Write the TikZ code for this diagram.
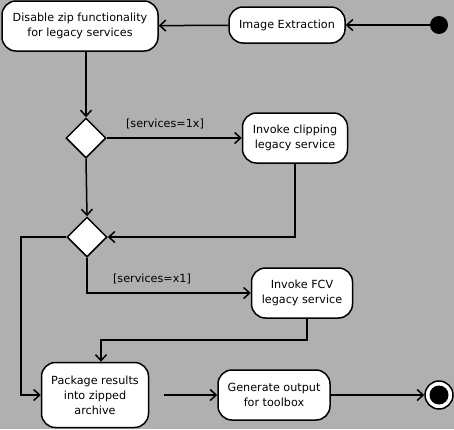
\documentclass[tikz,border=0pt]{standalone}
\usepackage{fontspec}
\setmainfont{DejaVu Sans}
\usetikzlibrary{arrows.meta,shapes.geometric}

\definecolor{bggray}{RGB}{176,176,176}

\tikzset{
	action/.style={draw,fill=white,line width=1.5pt,rounded corners=14pt,align=center,font=\fontsize{11.2}{15}\selectfont,inner sep=1pt},
	branch/.style={draw,fill=white,line width=1.5pt,diamond,aspect=1,minimum width=40pt,minimum height=40pt,inner sep=0pt},
	flow/.style={line width=1.5pt,-{Straight Barb[length=6pt,width=11pt,line width=1.5pt]}},
	guard/.style={font=\fontsize{11.2}{15}\selectfont}
}

\begin{document}
\begin{tikzpicture}[x=1pt,y=-1pt]
	\fill[bggray] (0,0) rectangle (454,429);
	\useasboundingbox (0,0) rectangle (454,429);
	% nodes
	\fill (439,25) circle (9) coordinate (start);
	\node[action,minimum width=116pt,minimum height=36pt] (extract) at (287,25) {Image Extraction};
	\node[action,minimum width=156pt,minimum height=50pt] (disable) at (80,26) {Disable zip functionality\\for legacy services};
	\node[branch] (d1) at (86,138) {};
	\node[action,minimum width=105pt,minimum height=50pt] (clip) at (295,138) {Invoke clipping\\legacy service};
	\node[branch] (d2) at (87,237) {};
	\node[action,minimum width=101pt,minimum height=50pt] (fcv) at (302,293) {Invoke FCV\\legacy service};
	\node[action,minimum width=107pt,minimum height=65pt] (pack) at (95,395) {Package results\\into zipped\\archive};
	\node[action,minimum width=112pt,minimum height=50pt] (gen) at (274,395) {Generate output\\for toolbox};
	\node[circle,draw,fill=white,line width=1.5pt,minimum size=28pt,inner sep=0pt] (stop) at (439,395) {};
	\fill (stop) circle (9.5);
	% connectors
	\draw[flow] (start) -- (extract);
	\draw[flow] (extract) -- (disable);
	\draw[flow] (disable.south -| d1.north) -- (d1.north);
	\draw[flow] (d1.east) -- (clip.west);
	\node[guard] at (165,124) {[services=1x]};
	\draw[flow] (clip.south) |- (d2.east);
	\draw[flow] (d1.south) -- (d2.north);
	\coordinate (lft) at (21,300);
	\draw[flow] (d2.west) -| (lft) |- (pack.west);
	\draw[flow] (d2.south) |- (fcv.west);
	\node[guard] at (152,279) {[services=x1]};
	\coordinate (m1) at (101,340);
	\draw[flow] ([xshift=5pt]fcv.south) |- (m1) -- (m1 |- pack.north);
	\draw[flow,shorten <=15pt] (pack.east) -- (gen.west);
	\draw[flow] (gen) -- (stop);
\end{tikzpicture}
\end{document}
